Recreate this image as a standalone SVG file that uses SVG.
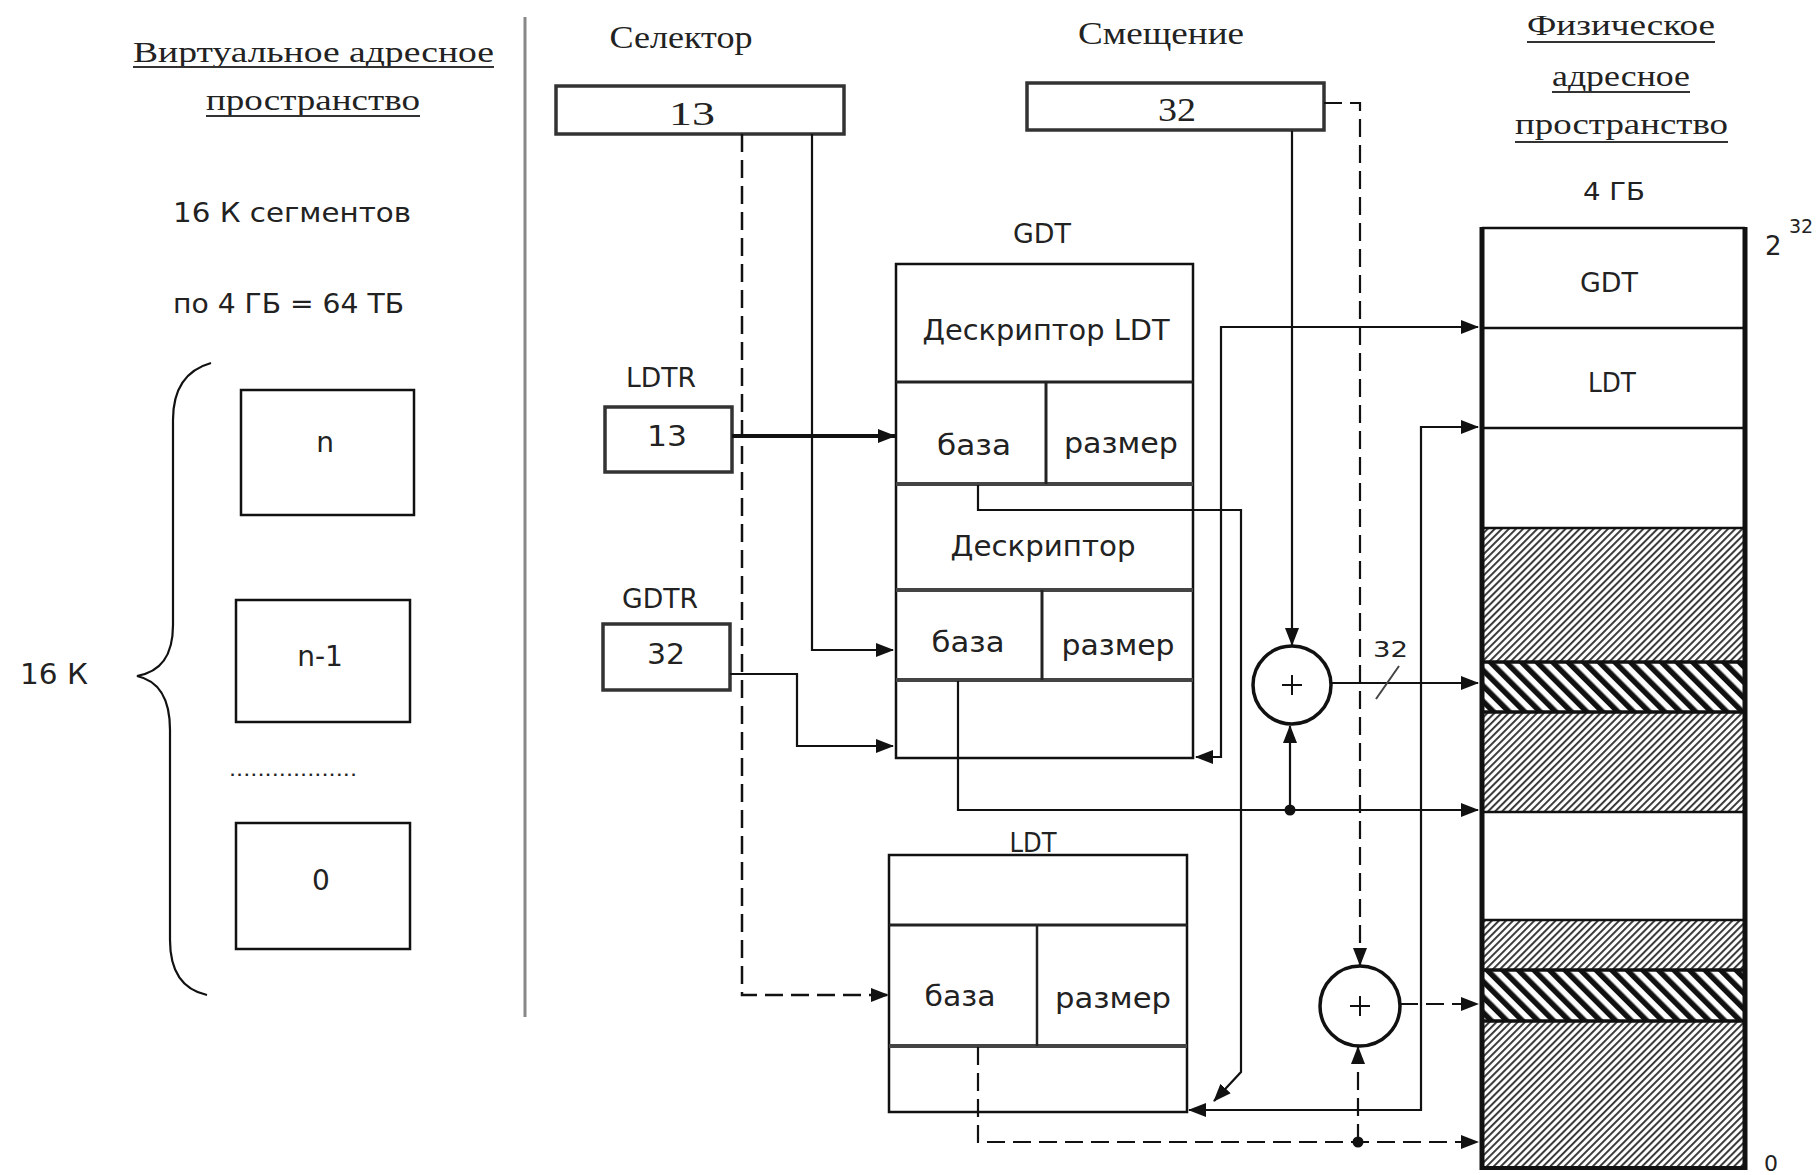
<svg xmlns="http://www.w3.org/2000/svg" width="1816" height="1175" viewBox="0 0 1816 1175">
<defs>
<style>
.serif{font-family:"Liberation Serif","DejaVu Serif",serif;fill:#222}
.sans{font-family:"DejaVu Sans","Liberation Sans",sans-serif;fill:#222}
.box{fill:#fff;stroke:#111;stroke-width:2.5}
.gbox{fill:#fff;stroke:#333;stroke-width:3.5}
.ln{fill:none;stroke:#111;stroke-width:2.2}
.thick{stroke-width:3.5}
.dash{stroke-dasharray:18 8}
.row{stroke:#444;stroke-width:4}
.ul{stroke:#333;stroke-width:2}
.mem{stroke:#111;fill:none}
</style>
<marker id="arr" viewBox="0 0 18 14" refX="17" refY="7" markerWidth="18" markerHeight="14" markerUnits="userSpaceOnUse" orient="auto-start-reverse">
<path d="M0,0 L18,7 L0,14 z" fill="#111"/>
</marker>
<pattern id="fine" width="5" height="5" patternUnits="userSpaceOnUse" patternTransform="rotate(45)">
<rect width="5" height="5" fill="#fff"/><rect width="1.9" height="5" fill="#333"/>
</pattern>
<pattern id="bold" width="11" height="11" patternUnits="userSpaceOnUse" patternTransform="rotate(-45)">
<rect width="11" height="11" fill="#fff"/><rect width="5.5" height="11" fill="#111"/>
</pattern>
</defs>
<rect width="1816" height="1175" fill="#fff"/>

<g id="virtual-title">
<text class="serif" x="133" y="62" font-size="30" textLength="361" lengthAdjust="spacingAndGlyphs">Виртуальное адресное</text>
<line class="ul" x1="133" y1="67" x2="494" y2="67"/>
<text class="serif" x="206" y="110" font-size="30" textLength="214" lengthAdjust="spacingAndGlyphs">пространство</text>
<line class="ul" x1="206" y1="116" x2="420" y2="116"/>
<text class="sans" x="173" y="222" font-size="27" textLength="238" lengthAdjust="spacingAndGlyphs">16 К сегментов</text>
<text class="sans" x="173" y="313" font-size="27" textLength="231" lengthAdjust="spacingAndGlyphs">по 4 ГБ = 64 ТБ</text>
</g>

<g id="segments">
<path class="ln" d="M211,363 C186,370 173,388 173,420 L173,625 C173,657 160,672 137,676 C160,681 170,700 170,730 L170,940 C170,974 184,990 207,995" stroke="#333"/>
<text class="sans" x="20" y="684" font-size="28" textLength="68" lengthAdjust="spacingAndGlyphs">16 К</text>
<g id="seg-n"><rect class="box" x="241" y="390" width="173" height="125"/><text class="sans" x="325" y="452" font-size="28" text-anchor="middle">n</text></g>
<g id="seg-n1"><rect class="box" x="236" y="600" width="174" height="122"/><text class="sans" x="320" y="666" font-size="28" text-anchor="middle">n-1</text></g>
<text class="sans" x="229" y="776" font-size="20" textLength="128" lengthAdjust="spacingAndGlyphs" fill="#555">..................</text>
<g id="seg-0"><rect class="box" x="236" y="823" width="174" height="126"/><text class="sans" x="321" y="890" font-size="28" text-anchor="middle">0</text></g>
</g>

<line id="separator" x1="525" y1="17" x2="525" y2="1017" stroke="#888" stroke-width="3"/>

<g id="selector">
<text class="serif" x="681" y="48" font-size="32" text-anchor="middle" textLength="143" lengthAdjust="spacingAndGlyphs">Селектор</text>
<rect class="gbox" x="556" y="86" width="288" height="48"/>
<text class="serif" x="692" y="125" font-size="34" text-anchor="middle" textLength="46" lengthAdjust="spacingAndGlyphs">13</text>
</g>

<g id="offset">
<text class="serif" x="1161" y="44" font-size="32" text-anchor="middle" textLength="166" lengthAdjust="spacingAndGlyphs">Смещение</text>
<rect class="gbox" x="1027" y="83" width="297" height="47"/>
<text class="serif" x="1177" y="121" font-size="34" text-anchor="middle" textLength="38" lengthAdjust="spacingAndGlyphs">32</text>
</g>

<g id="ldtr">
<text class="sans" x="661" y="387" font-size="26" text-anchor="middle" textLength="70" lengthAdjust="spacingAndGlyphs">LDTR</text>
<rect class="gbox" x="605" y="407" width="127" height="65" stroke-width="3"/>
<text class="sans" x="667" y="446" font-size="28" text-anchor="middle" textLength="40" lengthAdjust="spacingAndGlyphs">13</text>
</g>

<g id="gdtr">
<text class="sans" x="660" y="608" font-size="26" text-anchor="middle" textLength="76" lengthAdjust="spacingAndGlyphs">GDTR</text>
<rect class="gbox" x="603" y="624" width="127" height="66" stroke-width="3"/>
<text class="sans" x="666" y="664" font-size="28" text-anchor="middle" textLength="38" lengthAdjust="spacingAndGlyphs">32</text>
</g>

<g id="gdt-table">
<text class="sans" x="1042" y="243" font-size="27" text-anchor="middle" textLength="58" lengthAdjust="spacingAndGlyphs">GDT</text>
<rect class="box" x="896" y="264" width="297" height="494"/>
<line stroke="#222" stroke-width="3" x1="896" y1="382" x2="1193" y2="382"/>
<line class="row" x1="896" y1="484" x2="1193" y2="484"/>
<line class="row" x1="896" y1="590" x2="1193" y2="590"/>
<line class="row" x1="896" y1="680" x2="1193" y2="680"/>
<line stroke="#222" stroke-width="3" x1="1046" y1="382" x2="1046" y2="484"/>
<line stroke="#222" stroke-width="3" x1="1042" y1="590" x2="1042" y2="680"/>
<text class="sans" x="1046" y="340" font-size="28" text-anchor="middle" textLength="247" lengthAdjust="spacingAndGlyphs">Дескриптор LDT</text>
<text class="sans" x="974" y="455" font-size="28" text-anchor="middle" textLength="74" lengthAdjust="spacingAndGlyphs">база</text>
<text class="sans" x="1121" y="453" font-size="28" text-anchor="middle" textLength="114" lengthAdjust="spacingAndGlyphs">размер</text>
<text class="sans" x="1043" y="556" font-size="28" text-anchor="middle" textLength="185" lengthAdjust="spacingAndGlyphs">Дескриптор</text>
<text class="sans" x="968" y="652" font-size="28" text-anchor="middle" textLength="73" lengthAdjust="spacingAndGlyphs">база</text>
<text class="sans" x="1118" y="655" font-size="28" text-anchor="middle" textLength="113" lengthAdjust="spacingAndGlyphs">размер</text>
</g>

<g id="ldt-table">
<text class="sans" x="1033" y="852" font-size="26" text-anchor="middle" textLength="47" lengthAdjust="spacingAndGlyphs">LDT</text>
<rect class="box" x="889" y="855" width="298" height="257"/>
<line stroke="#222" stroke-width="3" x1="889" y1="925" x2="1187" y2="925"/>
<line class="row" x1="889" y1="1046" x2="1187" y2="1046"/>
<line stroke="#222" stroke-width="2.5" x1="1037" y1="925" x2="1037" y2="1046"/>
<text class="sans" x="960" y="1006" font-size="28" text-anchor="middle" textLength="71" lengthAdjust="spacingAndGlyphs">база</text>
<text class="sans" x="1113" y="1008" font-size="28" text-anchor="middle" textLength="116" lengthAdjust="spacingAndGlyphs">размер</text>
</g>

<g id="adder-1">
<circle cx="1292" cy="685" r="39" fill="#fff" stroke="#111" stroke-width="3.5"/>
<path d="M1282,685 H1302 M1292,675 V695" stroke="#111" stroke-width="2"/>
</g>
<g id="adder-2">
<circle cx="1360" cy="1006" r="40" fill="#fff" stroke="#111" stroke-width="3.5"/>
<path d="M1350,1006 H1370 M1360,996 V1016" stroke="#111" stroke-width="2"/>
</g>

<g id="memory">
<rect x="1482" y="228" width="263" height="940" fill="#fff"/>
<rect x="1482" y="528" width="263" height="134" fill="url(#fine)"/>
<rect x="1482" y="662" width="263" height="50" fill="url(#bold)"/>
<rect x="1482" y="712" width="263" height="100" fill="url(#fine)"/>
<rect x="1482" y="920" width="263" height="50" fill="url(#fine)"/>
<rect x="1482" y="970" width="263" height="51" fill="url(#bold)"/>
<rect x="1482" y="1021" width="263" height="147" fill="url(#fine)"/>
<g class="mem">
<line x1="1482" y1="228" x2="1745" y2="228" stroke-width="2.5"/>
<line x1="1482" y1="328" x2="1745" y2="328" stroke-width="2.5"/>
<line x1="1482" y1="428" x2="1745" y2="428" stroke-width="2.5"/>
<line x1="1482" y1="528" x2="1745" y2="528" stroke-width="2.5"/>
<line x1="1482" y1="662" x2="1745" y2="662" stroke-width="3.5"/>
<line x1="1482" y1="712" x2="1745" y2="712" stroke-width="3.5"/>
<line x1="1482" y1="812" x2="1745" y2="812" stroke-width="2.5"/>
<line x1="1482" y1="920" x2="1745" y2="920" stroke-width="2.5"/>
<line x1="1482" y1="970" x2="1745" y2="970" stroke-width="3.5"/>
<line x1="1482" y1="1021" x2="1745" y2="1021" stroke-width="3.5"/>
<line x1="1482" y1="1168" x2="1745" y2="1168" stroke-width="4"/>
<line x1="1482" y1="227" x2="1482" y2="1170" stroke-width="5"/>
<line x1="1745" y1="227" x2="1745" y2="1170" stroke-width="5"/>
</g>
<text class="serif" x="1527" y="35" font-size="30" textLength="188" lengthAdjust="spacingAndGlyphs">Физическое</text>
<line class="ul" x1="1527" y1="42" x2="1715" y2="42"/>
<text class="serif" x="1552" y="86" font-size="30" textLength="138" lengthAdjust="spacingAndGlyphs">адресное</text>
<line class="ul" x1="1552" y1="92" x2="1690" y2="92"/>
<text class="serif" x="1515" y="134" font-size="30" textLength="213" lengthAdjust="spacingAndGlyphs">пространство</text>
<line class="ul" x1="1515" y1="142" x2="1728" y2="142"/>
<text class="sans" x="1614" y="200" font-size="24" text-anchor="middle" textLength="62" lengthAdjust="spacingAndGlyphs">4 ГБ</text>
<text class="sans" x="1609" y="292" font-size="27" text-anchor="middle" textLength="58" lengthAdjust="spacingAndGlyphs">GDT</text>
<text class="sans" x="1612" y="392" font-size="27" text-anchor="middle" textLength="48" lengthAdjust="spacingAndGlyphs">LDT</text>
<text class="sans" x="1765" y="255" font-size="26">2</text>
<text class="sans" x="1789" y="233" font-size="19">32</text>
<text class="sans" x="1764" y="1171" font-size="22">0</text>
</g>

<g id="connectors" class="ln">
<path d="M742,134 V995 H888" class="dash" stroke-width="2.5" marker-end="url(#arr)"/>
<path d="M812,134 V650 H893" marker-end="url(#arr)"/>
<path d="M732,436 H895" stroke-width="4" marker-end="url(#arr)"/>
<path d="M730,674 H797 V746 H893" marker-end="url(#arr)"/>
<path d="M978,485 V510 H1241 V1072 L1214,1101" marker-end="url(#arr)"/>
<path d="M1478,327 H1221 V757 H1196" marker-start="url(#arr)" marker-end="url(#arr)"/>
<path d="M1478,427 H1421 V1110 H1189" marker-start="url(#arr)" marker-end="url(#arr)"/>
<path d="M958,681 V810 H1478" marker-end="url(#arr)"/>
<path d="M1290,810 V726" marker-end="url(#arr)"/>
<path d="M1292,131 V645" marker-end="url(#arr)"/>
<path d="M1331,683 H1478" marker-end="url(#arr)"/>
<path d="M1324,103 H1360 V965" class="dash" marker-end="url(#arr)"/>
<path d="M1400,1004 H1478" class="dash" marker-end="url(#arr)"/>
<path d="M978,1047 V1142 H1478" class="dash" marker-end="url(#arr)"/>
<path d="M1358,1142 V1047" class="dash" marker-end="url(#arr)"/>
<circle cx="1290" cy="810" r="5.5" fill="#111" stroke="none"/>
<circle cx="1358" cy="1142" r="5.5" fill="#111" stroke="none"/>
<line x1="1376" y1="699" x2="1399" y2="666" stroke="#444" stroke-width="2"/>
<text class="sans" x="1373" y="657" font-size="22" stroke="none" textLength="35" lengthAdjust="spacingAndGlyphs">32</text>
</g>
</svg>
